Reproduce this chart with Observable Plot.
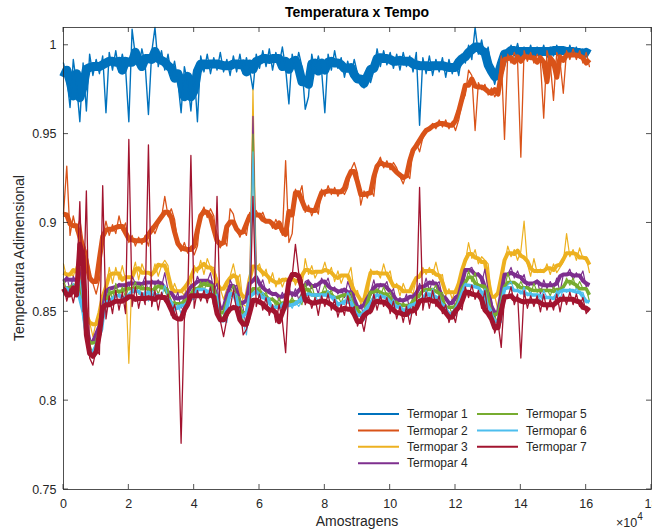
<!DOCTYPE html>
<html><head><meta charset="utf-8">
<script src="https://cdn.jsdelivr.net/npm/d3@7"></script>
<script src="https://cdn.jsdelivr.net/npm/@observablehq/plot@0.6"></script>
<style>body{margin:0;background:#fff;} #chart{width:652px;height:529px;}</style>
</head><body><div id="chart"></div>
<script>
const seriesNames = ["Termopar 1","Termopar 2","Termopar 3","Termopar 4","Termopar 5","Termopar 6","Termopar 7"];
const seriesColors = ["#0072BD","#D95319","#EDB120","#7E2F8E","#77AC30","#4DBEEE","#A2142F"];
const sampleStep = 1000;
const xTicks = [0,20000,40000,60000,80000,100000,120000,140000,160000,180000];
const yTicks = [0.75,0.8,0.85,0.9,0.95,1];
const titleText = "Temperatura x Tempo";
const xLabel = "Amostragens";
const yLabel = "Temperatura Adimensional";

const t1 = [.99,.982,.965,.992,.978,.957,.99,.963,.995,.983,.992,
.984,.994,.962,.996,.986,.997,.985,.995,.987,.957,1.009,
.994,.987,.998,.989,.961,.996,1.01,.988,.997,
.986,.995,.983,.991,.98,.962,.988,.979,.963,.986,
.957,.994,.985,.995,.984,.993,.986,.996,.985,.992,
.983,.994,.985,.995,.984,.993,.986,.975,.995,.987,
.997,.988,.998,.986,.996,.989,.999,.987,.967,.995,
.986,.996,.988,.964,.971,.995,.985,.994,.986,.962,
.995,.986,.997,.987,.993,.982,.991,.983,.992,.984,
.978,.976,.987,.979,.986,.998,.988,.997,.989,.996,
.987,.995,.986,.996,.988,.994,.985,.996,.955,.993,
.984,.994,.983,.992,.985,.993,.982,.992,.984,.991,
.983,.995,.99,1.0,.992,1.01,.995,1.003,.993,.999,
.985,.978,.986,.98,.997,.993,1.0,.994,1.001,.993,
.999,.994,1.0,.993,.999,.994,1.0,.993,.999,.994,
1.0,.995,.999,.993,1.0,.994,.999,.993,.998,.994,.996];

const t2 = [.905,.932,.893,.904,.895,.902,.889,.884,.872,.866,.86,
.868,.892,.901,.893,.899,.894,.904,.896,.9,.889,
.893,.887,.892,.888,.893,.887,.898,.894,.899,.903,
.915,.904,.908,.902,.888,.884,.889,.883,.887,.882,
.887,.905,.909,.903,.908,.904,.889,.886,.891,.887,
.908,.905,.896,.892,.897,.893,.906,.902,.907,.903,
.906,.901,.901,.897,.902,.898,.893,.935,.889,.894,
.919,.915,.921,.906,.91,.904,.909,.905,.919,.915,
.921,.916,.92,.915,.919,.916,.92,.93,.934,.928,
.91,.918,.914,.919,.915,.933,.937,.931,.935,.93,
.934,.931,.926,.922,.928,.925,.942,.945,.94,.948,
.951,.953,.956,.953,.958,.954,.958,.953,.957,.952,
.958,.968,.972,.986,.983,.952,.979,.975,.978,.972,
.976,.971,.974,.994,.947,.995,.99,.996,.991,.937,
.997,.991,.996,.99,.995,.991,.959,.997,.99,.969,
.996,.991,.973,.997,.992,.998,.992,.997,.99,.996,.988];

const t3 = [.877,.869,.872,.870,.876,.875,.868,.852,.844,.836,.844,
.842,.855,.862,.875,.866,.875,.868,.876,.868,.821,
.871,.878,.868,.877,.872,.872,.870,.877,.870,.876,
.879,.876,.860,.866,.861,.862,.859,.867,.865,.876,
.872,.879,.871,.880,.875,.875,.869,.863,.857,.863,
.870,.877,.868,.871,.854,.853,.863,.975,.874,.877,
.870,.874,.866,.872,.864,.869,.864,.869,.867,.871,
.865,.870,.864,.880,.871,.876,.869,.873,.872,.878,
.871,.875,.867,.873,.866,.871,.870,.875,.861,.862,
.854,.858,.855,.874,.871,.873,.869,.877,.870,.873,
.863,.866,.859,.866,.861,.862,.860,.869,.869,.875,
.871,.875,.871,.878,.870,.871,.859,.863,.857,.863,
.859,.869,.878,.889,.880,.885,.877,.881,.879,.877,
.858,.859,.851,.862,.877,.887,.881,.885,.879,.884,
.901,.877,.870,.880,.872,.874,.872,.877,.871,.877,
.872,.875,.878,.894,.881,.885,.879,.886,.880,.881,.872];

const t4 = [.867,.870,.862,.870,.866,.875,.858,.850,.832,.834,.832,
.841,.843,.860,.863,.864,.863,.866,.864,.866,.863,
.870,.866,.866,.865,.870,.860,.868,.865,.868,.864,
.872,.862,.860,.856,.861,.852,.859,.857,.865,.863,
.870,.866,.868,.867,.872,.862,.866,.850,.854,.850,
.868,.864,.865,.858,.852,.841,.861,.960,.871,.864,
.868,.861,.863,.859,.861,.856,.861,.856,.864,.858,
.863,.857,.861,.867,.868,.863,.866,.860,.869,.865,
.869,.862,.864,.860,.863,.858,.867,.862,.860,.851,
.854,.847,.854,.861,.868,.860,.866,.864,.867,.860,
.863,.855,.858,.855,.860,.851,.859,.858,.866,.862,
.869,.862,.868,.865,.867,.858,.859,.853,.857,.853,
.860,.859,.873,.874,.875,.870,.872,.866,.874,.862,
.857,.847,.849,.850,.871,.871,.875,.869,.873,.868,
.871,.863,.866,.866,.868,.860,.868,.863,.867,.863,
.869,.861,.871,.871,.874,.868,.872,.869,.873,.864,.866];

const t5 = [.868,.862,.863,.864,.866,.868,.861,.843,.832,.826,.833,
.833,.844,.854,.863,.857,.866,.859,.864,.858,.864,
.862,.867,.860,.865,.863,.863,.861,.865,.860,.865,
.864,.863,.854,.856,.854,.855,.852,.857,.857,.864,
.862,.867,.862,.867,.865,.865,.859,.849,.845,.850,
.860,.865,.859,.858,.845,.844,.854,.950,.862,.864,
.859,.861,.856,.858,.853,.858,.853,.855,.855,.858,
.854,.857,.854,.866,.860,.865,.858,.859,.860,.865,
.860,.862,.857,.859,.855,.860,.859,.861,.853,.853,
.847,.849,.849,.861,.861,.863,.859,.864,.859,.861,
.855,.856,.852,.855,.853,.854,.852,.858,.858,.863,
.861,.863,.862,.865,.860,.861,.852,.853,.849,.854,
.852,.860,.866,.873,.867,.872,.864,.865,.865,.862,
.849,.848,.843,.850,.862,.872,.866,.867,.863,.867,
.863,.864,.860,.866,.861,.863,.861,.863,.859,.864,
.861,.862,.863,.869,.865,.869,.863,.867,.863,.863,.856];

const t6 = [.862,.864,.859,.866,.860,.868,.855,.845,.828,.826,.827,
.835,.840,.855,.856,.856,.859,.860,.859,.857,.857,
.863,.862,.861,.858,.862,.856,.862,.860,.859,.858,
.865,.858,.856,.850,.854,.849,.854,.853,.857,.857,
.863,.862,.863,.860,.864,.858,.860,.845,.845,.844,
.861,.860,.860,.851,.844,.837,.855,.940,.862,.858,
.861,.857,.858,.852,.853,.852,.855,.851,.855,.852,
.856,.853,.856,.860,.860,.859,.860,.855,.860,.859,
.862,.858,.859,.853,.855,.854,.861,.857,.853,.847,
.849,.845,.851,.854,.860,.856,.860,.859,.858,.854,
.857,.852,.854,.849,.853,.848,.854,.854,.857,.856,
.862,.858,.863,.858,.859,.854,.854,.849,.849,.848,
.854,.856,.866,.865,.865,.864,.864,.859,.863,.854,
.851,.844,.845,.844,.861,.865,.867,.862,.862,.860,
.864,.859,.861,.859,.860,.856,.862,.858,.858,.857,
.862,.857,.863,.861,.863,.861,.863,.861,.861,.855,.856];

const t7 = [.866,.856,.863,.855,.864,.912,.85,.918,.824,.82,.829,
.826,.921,.846,.859,.849,.862,.851,.861,.849,.947,
.853,.864,.852,.861,.854,.944,.853,.862,.851,.861,
.856,.86,.848,.854,.846,.776,.846,.856,.938,.852,
.862,.856,.862,.855,.864,.853,.915,.845,.836,.846,
.852,.862,.851,.853,.837,.84,.846,.915,.853,.86,
.851,.858,.848,.854,.844,.854,.845,.827,.864,.87,
.888,.872,.868,.854,.859,.852,.858,.848,.859,.853,
.86,.851,.857,.847,.854,.848,.859,.85,.853,.842,
.847,.839,.85,.849,.86,.851,.859,.853,.858,.849,
.856,.846,.853,.844,.853,.843,.853,.848,.92,.851,
.861,.852,.862,.853,.859,.849,.854,.844,.85,.844,
.854,.851,.864,.858,.865,.857,.862,.852,.862,.848,
.85,.838,.844,.83,.859,.858,.864,.854,.86,.824,
.862,.852,.859,.853,.859,.85,.86,.851,.857,.851,
.86,.85,.86,.854,.861,.854,.86,.853,.858,.849,.852];

const allSeries = [t1,t2,t3,t4,t5,t6,t7];
const lineWidths = [1.4,1.3,1.2,1.2,1.2,1.2,1.3];
const bandWidths = [9,5,4,4,3.5,3.5,5];
const rows = [];
allSeries.forEach((arr, s) => arr.forEach((v, i) => rows.push({x: i * sampleStep, y: v, s: seriesNames[s]})));

const FONT = "'Liberation Sans', Arial, Helvetica, sans-serif";
const INK = "#262626";

const marks = [];
seriesNames.forEach((n, s) => {
  const data = rows.filter(r => r.s === n);
  // dense-noise core of the trace: rolling median of the samples
  marks.push(Plot.lineY(data, Plot.windowY({k: 4, reduce: "median"}, {x: "x", y: "y", stroke: seriesColors[s], strokeWidth: bandWidths[s], strokeLinejoin: "round", strokeLinecap: "butt"})));
  // raw samples (noise and spikes)
  marks.push(Plot.lineY(data, {x: "x", y: "y", stroke: seriesColors[s], strokeWidth: lineWidths[s], strokeLinejoin: "round"}));
});
marks.push(Plot.frame({stroke: INK, strokeWidth: 0.8}));

const plot = Plot.plot({
  width: 652, height: 529,
  marginLeft: 63, marginRight: 1, marginTop: 27, marginBottom: 40,
  style: {fontFamily: FONT, fontSize: "12.5px", color: INK, background: "#fff", overflow: "visible"},
  x: {domain: [0, 180000], ticks: xTicks, tickSize: 0, tickPadding: 10, tickFormat: d => String(d / 1e4), label: null},
  y: {domain: [0.75, 1.01], ticks: yTicks, tickSize: 0, tickPadding: 7, tickFormat: d => String(d), label: null},
  marks
});
document.getElementById("chart").appendChild(plot);

const svg = d3.select(plot);
const sx = plot.scale("x"), sy = plot.scale("y");
const xL = sx.apply(0), xR = sx.apply(180000), yB = sy.apply(0.75), yT = sy.apply(1.01);
const tg = svg.append("g").attr("stroke", INK).attr("stroke-width", 0.8);
xTicks.forEach(t => {
  const X = sx.apply(t);
  tg.append("line").attr("x1", X).attr("x2", X).attr("y1", yB).attr("y2", yB - 5);
  tg.append("line").attr("x1", X).attr("x2", X).attr("y1", yT).attr("y2", yT + 5);
});
yTicks.forEach(t => {
  const Y = sy.apply(t);
  tg.append("line").attr("x1", xL).attr("x2", xL + 5).attr("y1", Y).attr("y2", Y);
  tg.append("line").attr("x1", xR).attr("x2", xR - 5).attr("y1", Y).attr("y2", Y);
});

const cx = (xL + xR) / 2;
svg.append("text").attr("x", cx).attr("y", 17).attr("text-anchor", "middle")
  .attr("font-family", FONT).attr("font-size", 14).attr("font-weight", "bold").attr("fill", "#000").text(titleText);
svg.append("text").attr("x", cx).attr("y", 526).attr("text-anchor", "middle")
  .attr("font-family", FONT).attr("font-size", 14).attr("fill", INK).text(xLabel);
svg.append("text").attr("transform", `translate(24,${(yB + yT) / 2}) rotate(-90)`).attr("text-anchor", "middle")
  .attr("font-family", FONT).attr("font-size", 14).attr("fill", INK).text(yLabel);
const ex = svg.append("text").attr("x", 616).attr("y", 527).attr("text-anchor", "start")
  .attr("font-family", FONT).attr("font-size", 12.5).attr("fill", INK);
ex.append("tspan").text("\u00d710");
ex.append("tspan").attr("dy", -7).attr("font-size", 10).text("4");

const leg = svg.append("g").attr("font-family", FONT).attr("font-size", 12).attr("fill", INK).attr("text-anchor", "start");
seriesNames.forEach((n, i) => {
  const col = i < 4 ? 0 : 1, row = i < 4 ? i : i - 4;
  const lx = col ? 477 : 358, ly = 414 + row * 16.4;
  leg.append("line").attr("x1", lx).attr("x2", lx + 41).attr("y1", ly).attr("y2", ly)
    .attr("stroke", seriesColors[i]).attr("stroke-width", 2);
  leg.append("text").attr("x", lx + 49).attr("y", ly).attr("dy", "0.35em").attr("text-anchor", "start").text(n);
});
</script>
</body></html>
